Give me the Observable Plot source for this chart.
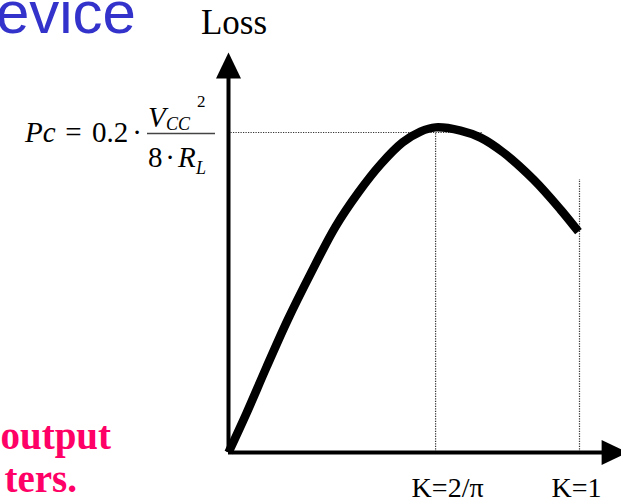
<!DOCTYPE html>
<html>
<head>
<meta charset="utf-8">
<script src="https://cdn.jsdelivr.net/npm/d3@7"></script>
<script src="https://cdn.jsdelivr.net/npm/@observablehq/plot@0.6"></script>
<style>
  html, body { margin: 0; padding: 0; background: #fff; overflow: hidden; }
  svg { display: block; }
</style>
</head>
<body>
<div id="chart"></div>
<script>
// ---- data (drawn K position, loss relative to Pc) ----
const curveK    = [0, 0.051, 0.108, 0.168, 0.234, 0.305, 0.370, 0.433, 0.496, 0.547, 0.590, 0.661, 0.718, 0.783, 0.869, 0.946, 0.997];
const curveLoss = [0, 0.122, 0.266, 0.413, 0.559, 0.706, 0.8125, 0.900, 0.969, 1.003, 1.016, 1.006, 0.984, 0.9375, 0.853, 0.759, 0.69];
const pcLevel = 1;             // Pc = 0.2 * Vcc^2 / (8 RL)
const pcGuideEnd = 0.724;      // horizontal dotted guide ends here
const tickPos = [0.59, 1];     // K = 2/π, K = 1
const tickTop = [1, 0.853];    // top of the dotted verticals
const tickLabels = ["K=2/π", "K=1"];
const yAxisLabel = "Loss";
const xAxisEnd = 1.063;        // arrow base along x
const yAxisEnd = 1.169;        // arrow base along y

const curve = curveK.map((k, i) => ({k, loss: curveLoss[i]}));
const ticks = tickPos.map((p, i) => ({pos: p, top: tickTop[i], label: tickLabels[i]}));

const serif = "'Liberation Serif', 'Times New Roman', Times, serif";
const dotted = {stroke: "#333", strokeWidth: 1.2, strokeDasharray: "1.2,1.3"};

// filled arrowhead symbol, anchored at its base centre, pointing up
const arrowHead = {
  draw(ctx) {
    ctx.moveTo(0, -26);
    ctx.lineTo(12.5, 0);
    ctx.lineTo(-12.5, 0);
    ctx.closePath();
  }
};

const labelDx = [12, -3];

const plot = Plot.plot({
  width: 621,
  height: 502,
  margin: 0,
  style: {background: "white", overflow: "visible"},
  x: {domain: [0, 1], range: [228, 579], axis: null},
  y: {domain: [0, 1], range: [452, 132], axis: null},
  marks: [
    // dotted guides
    Plot.ruleY([pcLevel], {x1: 0, x2: pcGuideEnd, ...dotted}),
    Plot.ruleX(ticks, {x: "pos", y1: 0, y2: "top", ...dotted}),
    // axes
    Plot.ruleX([0], {y1: 0, y2: yAxisEnd + 0.01, stroke: "black", strokeWidth: 4}),
    Plot.ruleY([0], {x1: 0, x2: xAxisEnd + 0.01, stroke: "black", strokeWidth: 4}),
    Plot.dot([{x: 0, y: yAxisEnd}], {x: "x", y: "y", symbol: arrowHead, fill: "black", stroke: "none", r: 10}),
    Plot.dot([{x: xAxisEnd, y: 0}], {x: "x", y: "y", symbol: arrowHead, fill: "black", stroke: "none", r: 10, rotate: 90}),
    // loss curve
    Plot.line(curve, {x: "k", y: "loss", curve: "catmull-rom", stroke: "black", strokeWidth: 8.5, strokeLinecap: "butt", strokeLinejoin: "round"}),
    // axis texts
    Plot.text([yAxisLabel], {x: 0.0157, y: 1.309, text: d => d, fontSize: 35, fontFamily: serif, fill: "black", textAnchor: "middle", lineAnchor: "bottom"}),
    ...ticks.map((t, i) => Plot.text([t], {x: "pos", y: -0.138, text: "label", dx: labelDx[i], fontSize: 28, fontFamily: serif, fill: "black", textAnchor: "middle", lineAnchor: "bottom"}))
  ]
});

document.getElementById("chart").appendChild(plot);

// ---- formula and surrounding slide text ----
const svg = d3.select(plot);
const yPc = plot.scale("y").apply(pcLevel);   // ~132
const base = yPc + 10;
const g = svg.append("g").attr("font-family", serif).attr("fill", "black").attr("text-anchor", "start");
function t(x, y, s, size, opts = {}) {
  const el = g.append("text").attr("x", x).attr("y", y).attr("font-size", size)
    .attr("text-anchor", opts.anchor || "start").text(s);
  if (opts.italic) el.attr("font-style", "italic");
  return el;
}
t(25, base, "Pc", 29, {italic: true});
t(73.5, base, "=", 29, {anchor: "middle"});
t(92, base, "0.2", 29);
t(137, base, "·", 29, {anchor: "middle"});
g.append("line").attr("x1", 147).attr("x2", 215).attr("y1", yPc + 1.5).attr("y2", yPc + 1.5)
  .attr("stroke", "#444").attr("stroke-width", 1.5);
t(148, yPc - 5, "V", 29, {italic: true});
t(166, yPc - 2, "CC", 18, {italic: true});
t(197, yPc - 25, "2", 17);
t(148, yPc + 35, "8", 29);
t(170, yPc + 35, "·", 29, {anchor: "middle"});
t(178, yPc + 35, "R", 29, {italic: true});
t(196, yPc + 42, "L", 18, {italic: true});

// slide title fragment
svg.append("text").attr("x", 136).attr("y", 33).attr("text-anchor", "end")
  .attr("font-family", "'Liberation Sans', Arial, sans-serif").attr("font-size", 60)
  .attr("fill", "#3333cc").text("Device");

// slide body fragment (magenta)
const mg = svg.append("g").attr("font-family", serif).attr("font-weight", "bold")
  .attr("font-size", 39).attr("fill", "#ff0066").attr("text-anchor", "end");
mg.append("text").attr("x", 111).attr("y", 449).text("output");
mg.append("text").attr("x", 77).attr("y", 492).text("ters.");
</script>
</body>
</html>
